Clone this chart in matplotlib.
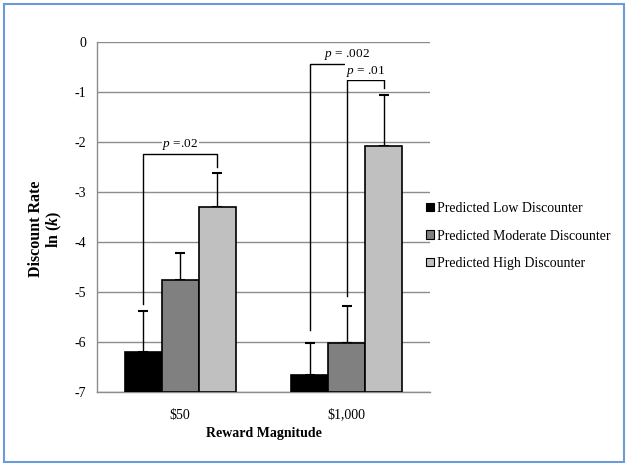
import numpy as np
import matplotlib
matplotlib.use("Agg")
import matplotlib.pyplot as plt
from matplotlib.patches import Rectangle

# --- данные ---
categories = ["\\$50", "\\$1,000"]
groups = ["Predicted Low Discounter", "Predicted Moderate Discounter",
          "Predicted High Discounter"]
low_vals = [-6.20, -6.66]
mod_vals = [-4.77, -6.02]
high_vals = [-3.31, -2.09]
low_err = [0.82, 0.64]
mod_err = [0.54, 0.74]
high_err = [0.69, 1.02]
colors = ["#000000", "#808080", "#c0c0c0"]

# скобки значимости: (категория, бар слева, бар справа, верх, низ слева, низ справа, текст)
brackets = [
    (0, 0, 2, -2.24, -5.24, -2.51, "=.02"),
    (1, 0, 2, -0.44, -5.76, -0.52, "= .002"),
    (1, 1, 2, -0.77, -5.08, -0.92, "= .01"),
]

plt.rcParams['font.family'] = ['Liberation Serif', 'DejaVu Serif']
plt.rcParams['mathtext.fontset'] = 'custom'
plt.rcParams['mathtext.rm'] = 'Liberation Serif'
plt.rcParams['mathtext.it'] = 'Liberation Serif:italic'
plt.rcParams['mathtext.bf'] = 'Liberation Serif:bold'
plt.rcParams['mathtext.bfit'] = 'Liberation Serif:bold:italic'

fig = plt.figure(figsize=(6.29, 4.67), dpi=100)
ax = fig.add_axes([0.1542, 0.1606, 0.5294, 0.7495])

# рамка вокруг всей картинки
fig.patches.append(Rectangle((4 / 629, 1 - 462 / 467), 620 / 629, 458 / 467,
                             transform=fig.transFigure, fill=False,
                             edgecolor="#6b9bd8", linewidth=1.5))

base = -7
width = 0.222
x = np.arange(len(categories))
series = [(low_vals, low_err), (mod_vals, mod_err), (high_vals, high_err)]
offsets = [-width, 0, width]

for (vals, errs), off, col in zip(series, offsets, colors):
    vals = np.array(vals)
    ax.bar(x + off, vals - base, bottom=base, width=width, color=col,
           edgecolor="black", linewidth=1.2, zorder=3)
    ax.errorbar(x + off, vals, yerr=[np.zeros(len(errs)), errs], fmt="none",
                ecolor="black", elinewidth=1, capsize=3.5, capthick=1.5, zorder=2)

for cat, i, j, top, lo_l, lo_r, txt in brackets:
    xl = x[cat] + offsets[i]
    xr = x[cat] + offsets[j]
    ax.plot([xl, xl, xr, xr], [lo_l, top, top, lo_r], color="black",
            linewidth=1, zorder=4)
    ax.text((xl + xr) / 2, top + 0.03, r"$p$ " + txt, ha="center",
            va="bottom", fontsize=9.5, zorder=5,
            bbox=dict(facecolor="white", edgecolor="none", pad=0.5))

ax.set_ylim(-7, 0)
ax.set_xlim(-0.5, 1.5)
ax.set_yticks(np.arange(-7, 1, 1))
ax.set_yticklabels([str(v) for v in range(-7, 1)], fontsize=10)
ax.set_xticks(x)
ax.set_xticklabels(categories, fontsize=10)
ax.tick_params(axis="y", length=0, pad=8)
ax.tick_params(axis="x", length=0, pad=12)
ax.yaxis.grid(True, color="#8c8c8c", linewidth=1)
ax.set_axisbelow(True)
for s in ["top", "right"]:
    ax.spines[s].set_visible(False)
for s in ["left", "bottom"]:
    ax.spines[s].set_color("#8c8c8c")
    ax.spines[s].set_linewidth(1)

ax.set_xlabel("Reward Magnitude", fontsize=10, fontweight="bold", labelpad=4)
fig.text(46 / 629, 1 - 229 / 467, "Discount Rate\nln ($\\mathbfit{k}$)",
         rotation=90, ha="center", va="center", fontsize=11.5,
         fontweight="bold", linespacing=1.1)

handles = [Rectangle((0, 0), 1, 1, facecolor=c, edgecolor="black", linewidth=0.8)
           for c in colors]
fig.legend(handles, groups, loc="center left", bbox_to_anchor=(0.658, 0.4946),
           frameon=False, fontsize=10, handlelength=0.55, handleheight=0.55,
           handletextpad=0.25, labelspacing=1.05)

fig.savefig("out.png", dpi=100)
